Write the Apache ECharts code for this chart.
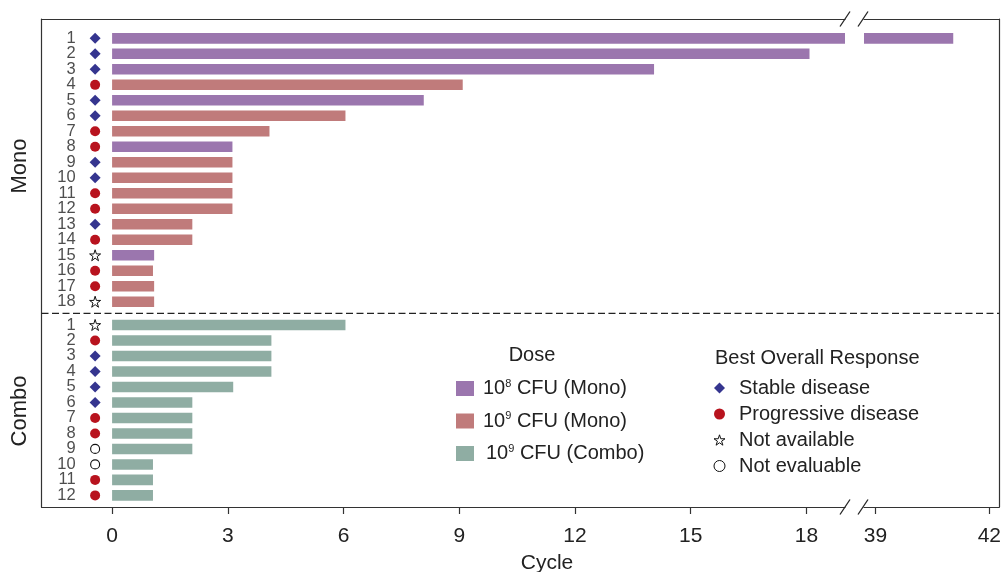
<!DOCTYPE html>
<html>
<head>
<meta charset="utf-8">
<script src="https://cdn.jsdelivr.net/npm/echarts@6/dist/echarts.min.js"></script>
<style>
  html, body { margin: 0; padding: 0; background: #fff; }
  #chart { width: 1004px; height: 572px; }
</style>
</head>
<body>
<div id="chart"></div>
<script>
// Treatment duration in cycles, one entry per patient (top to bottom)
const monoCycles = [41.05, 18.08, 14.05, 9.09, 8.08, 6.05, 4.08, 3.12, 3.12, 3.12, 3.12, 3.12, 2.08, 2.08, 1.09, 1.06, 1.09, 1.09];
const monoDose = ['m8', 'm8', 'm8', 'm9', 'm8', 'm9', 'm9', 'm8', 'm9', 'm9', 'm9', 'm9', 'm9', 'm9', 'm8', 'm9', 'm9', 'm9'];
const monoResponse = ['SD', 'SD', 'SD', 'PD', 'SD', 'SD', 'PD', 'PD', 'SD', 'SD', 'PD', 'PD', 'SD', 'PD', 'NA', 'PD', 'PD', 'NA'];
const comboCycles = [6.05, 4.13, 4.13, 4.13, 3.14, 2.08, 2.08, 2.08, 2.08, 1.06, 1.06, 1.06];
const comboResponse = ['NA', 'PD', 'SD', 'SD', 'SD', 'SD', 'PD', 'PD', 'NE', 'NE', 'PD', 'PD'];
const xTicksLeft = [0, 3, 6, 9, 12, 15, 18];
const xTicksRight = [39, 42];
const doseNames = { m8: '10^8 CFU (Mono)', m9: '10^9 CFU (Mono)', c9: '10^9 CFU (Combo)' };
const responseNames = { SD: 'Stable disease', PD: 'Progressive disease', NA: 'Not available', NE: 'Not evaluable' };

// Broken x axis: left panel ends at BREAK_START, right panel resumes at BREAK_END
const BREAK_START = 19;
const BREAK_END = 38.7;
const LEFT_MIN = -1.83;
const RIGHT_MAX = 42.26;
const MARK_X = -0.44;          // column of response symbols
const GROUP_GAP = 1.5;         // row distance between the last Mono and first Combo patient
const BAR_H = 0.68;            // bar thickness in row units
const FONT = "'Liberation Sans', Arial, Helvetica, sans-serif";
const INK = '#222';

const doseColors = { m8: '#9b76ae', m9: '#c07b7b', c9: '#8fada3' };

// One row per patient with its vertical position on the y scale
const rows = [];
monoCycles.forEach((c, i) => rows.push({ num: i + 1, pos: i + 1, cycles: c, dose: monoDose[i], resp: monoResponse[i] }));
comboCycles.forEach((c, j) => rows.push({ num: j + 1, pos: monoCycles.length + GROUP_GAP + j, cycles: c, dose: 'c9', resp: comboResponse[j] }));
const Y_MIN = 1 - 1.25;
const Y_MAX = rows[rows.length - 1].pos + 0.75;
const DIVIDER = monoCycles.length + GROUP_GAP / 2;

function renderBar(params, api) {
  const v = api.value(0), pos = api.value(1);
  const p0 = api.coord([0, pos]);
  const p1 = api.coord([v, pos]);
  const h = api.size([0, BAR_H])[1];
  const cs = params.coordSys;
  const shape = echarts.graphic.clipRectByRect(
    { x: p0[0], y: p0[1] - h / 2, width: p1[0] - p0[0], height: h },
    { x: cs.x, y: cs.y, width: cs.width, height: cs.height }
  );
  if (!shape) return null;
  return { type: 'rect', shape: shape, style: api.style() };
}

const series = [];
['m8', 'm9', 'c9'].forEach(d => {
  const data = rows.filter(r => r.dose === d).map(r => [r.cycles, r.pos]);
  [0, 1].forEach(g => series.push({
    type: 'custom', name: doseNames[d], xAxisIndex: g * 2, yAxisIndex: g,
    renderItem: renderBar, itemStyle: { color: doseColors[d] },
    encode: { x: 0, y: 1 }, data: data, silent: true
  }));
});

const starPath = 'path://M50,2 L61.2,36.4 L97.6,36.4 L68.2,57.6 L79.4,92 L50,70.8 L20.6,92 L31.8,57.6 L2.4,36.4 L38.8,36.4 Z';
const respStyle = {
  SD: { symbol: 'diamond', symbolSize: [11, 11], itemStyle: { color: '#35358f', opacity: 1 } },
  PD: { symbol: 'circle', symbolSize: 10, itemStyle: { color: '#b8131e', opacity: 1 } },
  NA: { symbol: starPath, symbolSize: [11, 11], itemStyle: { color: '#fff', borderColor: '#111', borderWidth: 1, opacity: 1 } },
  NE: { symbol: 'circle', symbolSize: 9, itemStyle: { color: '#fff', borderColor: '#111', borderWidth: 1.1, opacity: 1 } }
};
['SD', 'PD', 'NA', 'NE'].forEach(k => {
  series.push(Object.assign({
    type: 'scatter', name: responseNames[k], xAxisIndex: 0, yAxisIndex: 0, silent: true,
    data: rows.filter(r => r.resp === k).map(r => [MARK_X, r.pos])
  }, respStyle[k]));
});

// Patient numbers, right-aligned left of the symbol column
series.push({
  type: 'scatter', name: 'rowNumbers', xAxisIndex: 0, yAxisIndex: 0, silent: true,
  symbolSize: 1, itemStyle: { color: 'rgba(0,0,0,0)' },
  data: rows.map(r => [MARK_X, r.pos, r.num]),
  label: {
    show: true, position: 'left', distance: 19,
    formatter: p => String(p.value[2]),
    fontFamily: FONT, fontSize: 16.5, color: INK
  }
});

const frameLine = { show: true, onZero: false, lineStyle: { color: '#333', width: 1.2 } };
function bottomAxis(grid, min, max, ticks) {
  return {
    type: 'value', gridIndex: grid, position: 'bottom', min: min, max: max,
    axisLine: frameLine,
    axisTick: { show: true, customValues: ticks, length: 7, lineStyle: { color: '#333', width: 1.2 } },
    axisLabel: { customValues: ticks, fontFamily: FONT, fontSize: 21, color: INK, margin: 19 },
    splitLine: { show: false }
  };
}
function topAxis(grid, min, max) {
  return {
    type: 'value', gridIndex: grid, position: 'top', min: min, max: max,
    axisLine: frameLine, axisTick: { show: false }, axisLabel: { show: false }, splitLine: { show: false }
  };
}
function sideAxis(grid, pos) {
  return {
    type: 'value', gridIndex: grid, position: pos, inverse: true, min: Y_MIN, max: Y_MAX,
    axisLine: frameLine, axisTick: { show: false }, axisLabel: { show: false }, splitLine: { show: false }
  };
}

const supFormatter = name => name.replace(/\^(\d)/, '{sup|$1}');
const legendText = {
  fontFamily: FONT, fontSize: 20, color: INK,
  rich: { sup: { fontFamily: FONT, fontSize: 11, color: INK, padding: [0, 0, 10, 0] } }
};
const openSymbol = { color: '#fff', borderColor: '#111', borderWidth: 1, opacity: 1 };

const slash = (x, y) => ({
  type: 'line', silent: true, z: 10,
  shape: { x1: x - 5, y1: y + 7.5, x2: x + 5, y2: y - 7.5 },
  style: { stroke: INK, lineWidth: 1.3 }
});

const graphics = [
  { type: 'text', silent: true,
    style: { text: 'Dose', x: 532, y: 355, align: 'center', verticalAlign: 'middle', font: '20px ' + FONT, fill: INK } },
  { type: 'text', silent: true,
    style: { text: 'Best Overall Response', x: 715, y: 358, align: 'left', verticalAlign: 'middle', font: '20px ' + FONT, fill: INK } },
  { type: 'text', silent: true, x: 20, y: 166, rotation: Math.PI / 2,
    style: { text: 'Mono', x: 0, y: 0, align: 'center', verticalAlign: 'middle', font: '22px ' + FONT, fill: INK } },
  { type: 'text', silent: true, x: 20, y: 411, rotation: Math.PI / 2,
    style: { text: 'Combo', x: 0, y: 0, align: 'center', verticalAlign: 'middle', font: '22px ' + FONT, fill: INK } },
  { type: 'text', silent: true,
    style: { text: 'Cycle', x: 547, y: 563, align: 'center', verticalAlign: 'middle', font: '21px ' + FONT, fill: INK } },
  slash(845, 19), slash(863, 19), slash(845, 507), slash(863, 507)
];

const option = {
  animation: false,
  backgroundColor: '#fff',
  grid: [
    { left: 41.5, top: 19, width: 803.5, height: 488 },
    { left: 864, top: 19, width: 137, height: 488 }
  ],
  xAxis: [
    bottomAxis(0, LEFT_MIN, BREAK_START, xTicksLeft),
    topAxis(0, LEFT_MIN, BREAK_START),
    bottomAxis(1, BREAK_END, RIGHT_MAX, xTicksRight),
    topAxis(1, BREAK_END, RIGHT_MAX)
  ],
  yAxis: [sideAxis(0, 'left'), sideAxis(1, 'right')],
  legend: [
    {
      orient: 'vertical', left: 456, top: 378, padding: 0, icon: 'rect',
      itemWidth: 18, itemHeight: 15, itemGap: 12, selectedMode: false,
      data: [
        { name: doseNames.m8, textStyle: { padding: [0, 0, 0, 4] } },
        { name: doseNames.m9, textStyle: { padding: [0, 0, 0, 4] } },
        { name: doseNames.c9, textStyle: { padding: [0, 0, 0, 7] } }
      ],
      formatter: supFormatter, textStyle: legendText
    },
    {
      orient: 'vertical', left: 713.5, top: 378, padding: 0,
      itemWidth: 11, itemHeight: 11, itemGap: 6, selectedMode: false,
      data: [
        { name: responseNames.SD },
        { name: responseNames.PD },
        { name: responseNames.NA, itemStyle: openSymbol },
        { name: responseNames.NE, itemStyle: openSymbol }
      ],
      textStyle: { fontFamily: FONT, fontSize: 20, color: INK, lineHeight: 20, padding: [0, 0, 0, 9] }
    }
  ],
  graphic: graphics,
  series: series
};

const chart = echarts.init(document.getElementById('chart'), null, { renderer: 'canvas' });
chart.setOption(option);

// Dashed separator between the two arms, running across the whole frame
const yDiv = chart.convertToPixel({ yAxisIndex: 0 }, DIVIDER);
const xFrom = chart.convertToPixel({ xAxisIndex: 0 }, LEFT_MIN);
const xTo = chart.convertToPixel({ xAxisIndex: 2 }, RIGHT_MAX);
chart.setOption({
  graphic: graphics.concat([{
    type: 'line', silent: true, z: 5,
    shape: { x1: xFrom, y1: yDiv, x2: xTo, y2: yDiv },
    style: { stroke: INK, lineWidth: 1.2, lineDash: [7, 3.5] }
  }])
});
</script>
</body>
</html>
